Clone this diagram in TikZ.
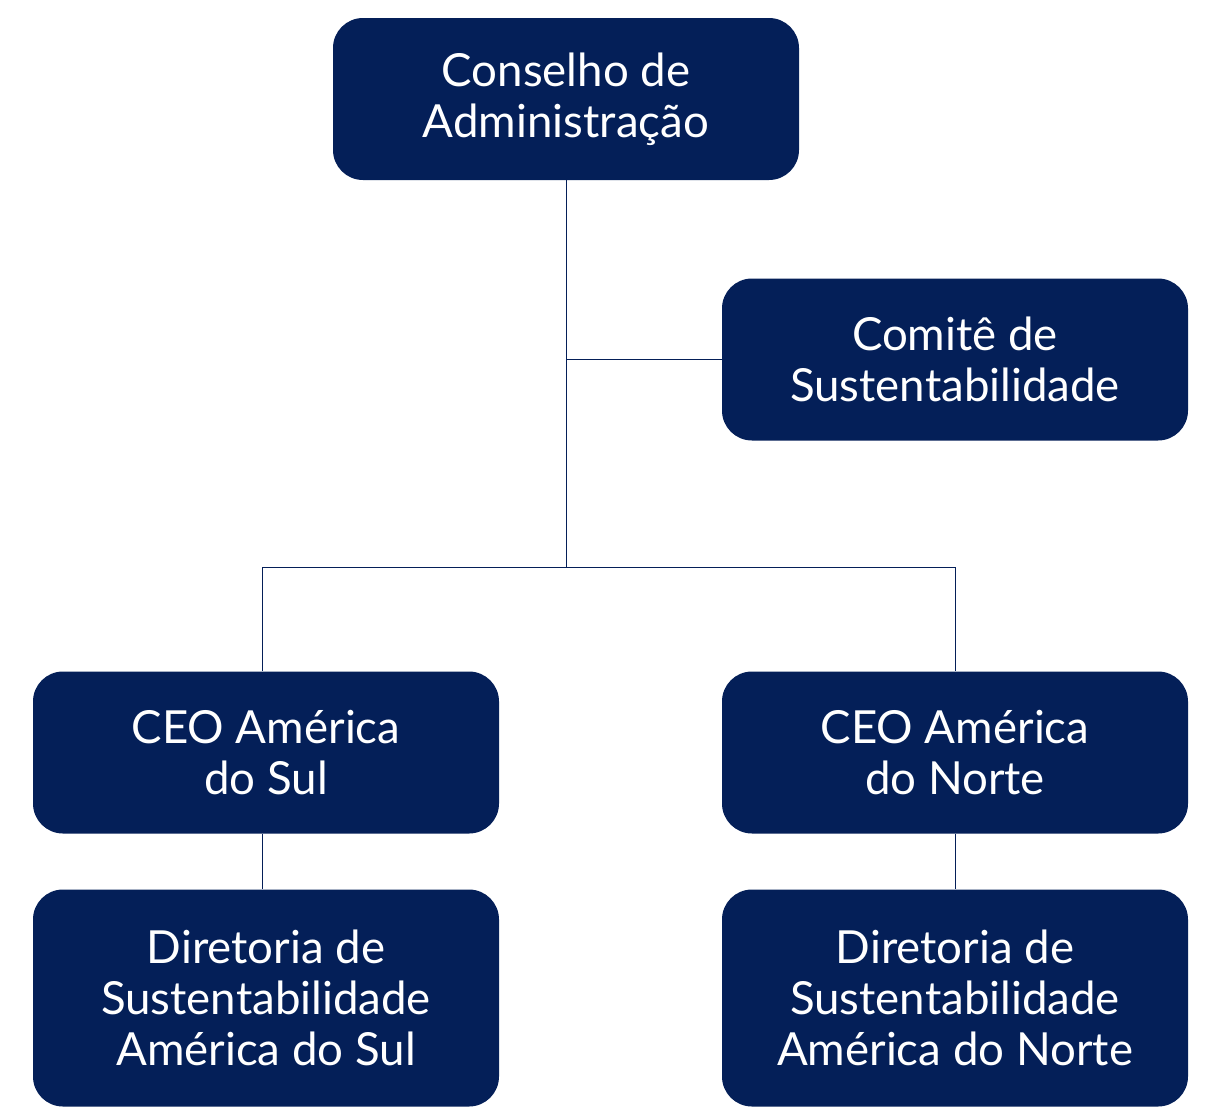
\documentclass[tikz,border=0pt]{standalone}
\usepackage{fontspec}
\setmainfont{Lato}
\usepackage{tikz}
\usetikzlibrary{positioning,calc}
\definecolor{navy}{RGB}{4,31,88}

\begin{document}
\begin{tikzpicture}[x=0.5pt,y=-0.5pt]
  \def\w{466}
  \def\h{162}
  \tikzset{box/.style={fill=navy,text=white,rounded corners=15pt,align=center,
      minimum width=\w*0.5pt,minimum height=\h*0.5pt,inner sep=0pt,
      font=\fontsize{22.8}{25.5}\selectfont}}
  \tikzset{tall/.style={box,minimum height=217*0.5pt}}
  \tikzset{link/.style={draw=navy,line width=0.5pt}}
  \useasboundingbox (0,0) rectangle (1206,1110);
  \node[box] (board) at (566,99) {Conselho de\\Administração};
  \node[box] (committee) at (955,359.5) {Comitê de\\Sustentabilidade};
  \node[box] (ceoSul) at (266,752.5) {CEO América\\do Sul};
  \node[box] (ceoNorte) at (955,752.5) {CEO América\\do Norte};
  \node[tall] (dirSul) at (266,998) {Diretoria de\\Sustentabilidade\\América do Sul};
  \node[tall] (dirNorte) at (955,998) {Diretoria de\\Sustentabilidade\\América do Norte};
  \coordinate (split) at (566,567);
  \coordinate (sulTop) at ([xshift=-2pt]ceoSul.north);
  \coordinate (sulBot) at ([xshift=-2pt]ceoSul.south);
  \draw[link] (board) -- (split);
  \draw[link] (board |- committee) -- (committee);
  \draw[link] (sulTop) |- (split) -| (ceoNorte);
  \draw[link] (sulBot) -- (sulBot |- dirSul.north);
  \draw[link] (ceoNorte) -- (dirNorte);
\end{tikzpicture}
\end{document}
